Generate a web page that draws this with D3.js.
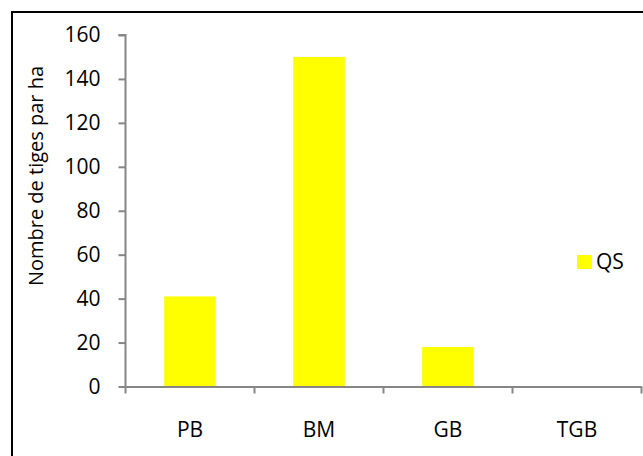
<!DOCTYPE html>
<html><head><meta charset="utf-8">
<script src="https://cdn.jsdelivr.net/npm/d3@7"></script>
<style>body{margin:0;background:#fff}svg{display:block}</style>
</head><body>
<script>
const categories = ["PB", "BM", "GB", "TGB"];
const seriesName = "QS";
const values = [41, 150, 18, 0];
const yTicks = [0, 20, 40, 60, 80, 100, 120, 140, 160];
const yLabel = "Nombre de tiges par ha";

(function () {
const W = 643, H = 456;
const font = "'Open Sans', 'Liberation Sans', sans-serif";
const fs = 21;
const svg = d3.select("body").append("svg").attr("width", W).attr("height", H);
svg.append("rect").attr("width", W).attr("height", H).attr("fill", "#fff");
svg.append("rect").attr("x", 12).attr("y", 12).attr("width", W + 10).attr("height", H + 10)
  .attr("fill", "none").attr("stroke", "#000").attr("stroke-width", 2);

const pL = 125.5, pR = 641.5, pT = 35, pB = 386.5;
const x = d3.scaleBand().domain(categories).range([pL, pR]).paddingInner(0.6).paddingOuter(0.3);
const xb = d3.scaleBand().domain(categories).range([pL, pR]).padding(0);
const y = d3.scaleLinear().domain([0, 160]).range([pB, pT]);

svg.selectAll("rect.bar").data(values).enter().append("rect")
  .attr("class", "bar")
  .attr("x", (d, i) => x(categories[i]))
  .attr("width", x.bandwidth())
  .attr("y", d => y(d))
  .attr("height", d => pB - y(d))
  .attr("fill", "#ffff00");

const yAxis = svg.append("g").attr("transform", `translate(${pL},0)`)
  .call(d3.axisLeft(y).tickValues(yTicks).tickSize(7).tickPadding(18));
const xAxis = svg.append("g").attr("transform", `translate(0,${pB})`)
  .call(d3.axisBottom(xb).tickSize(0).tickPadding(36));
const bounds = categories.map(c => xb(c)).concat([pR]);
xAxis.selectAll("line.bt").data(bounds).enter().append("line").attr("class", "bt")
  .attr("x1", d => d).attr("x2", d => d).attr("y1", 0).attr("y2", 7);

svg.selectAll(".domain, .tick line, line.bt").attr("stroke", "#868686").attr("stroke-width", 2);
yAxis.select(".domain").attr("d", `M-7,${pT}H0V${pB}`);
svg.selectAll(".tick text").attr("font-family", font).attr("font-size", fs).attr("fill", "#000");

svg.append("text").attr("transform", `translate(36,176) rotate(-90)`)
  .attr("text-anchor", "middle").attr("dy", "0.35em").attr("font-family", font).attr("font-size", 20)
  .text(yLabel);

const lg = svg.append("g").attr("transform", "translate(577,255)");
lg.append("rect").attr("x", 0).attr("y", 0).attr("width", 15).attr("height", 14).attr("fill", "#ffff00");
lg.append("text").attr("x", 19).attr("y", 7).attr("dy", "0.35em")
  .attr("font-family", font).attr("font-size", fs).text(seriesName);
})();
</script>
</body></html>
